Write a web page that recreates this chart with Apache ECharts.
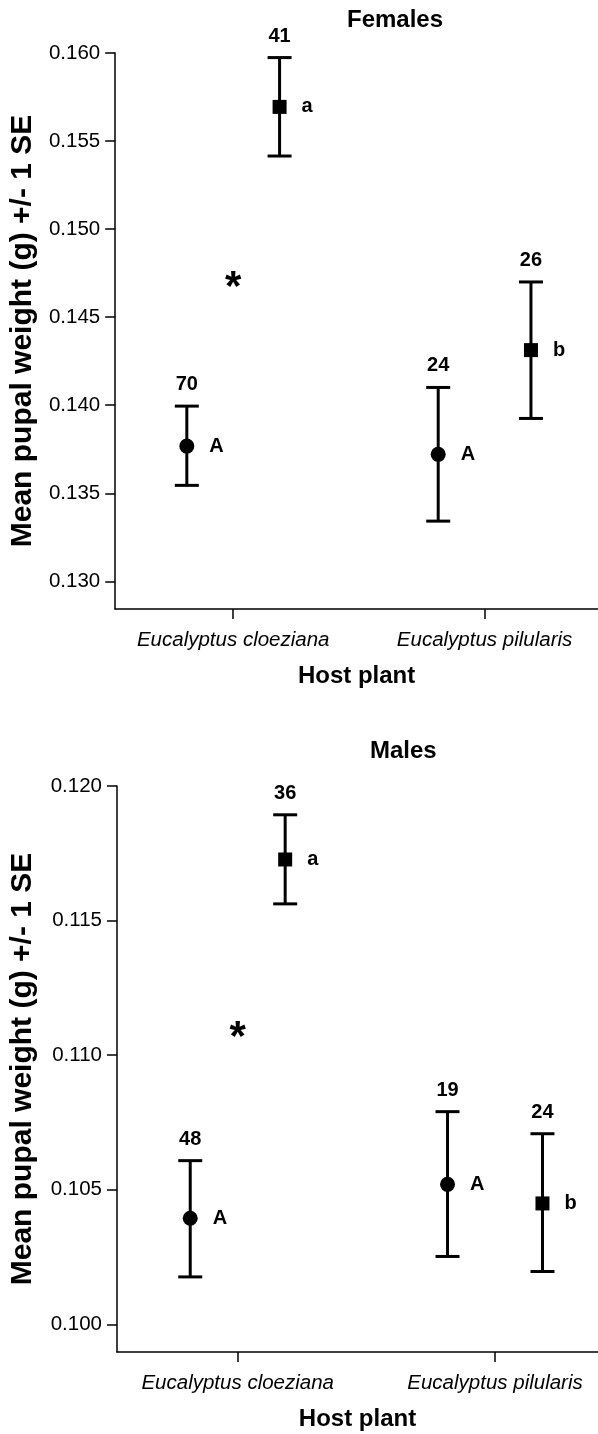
<!DOCTYPE html>
<html>
<head>
<meta charset="utf-8">
<script src="https://cdn.jsdelivr.net/npm/echarts@6/dist/echarts.min.js"></script>
<style>
html,body{margin:0;padding:0;background:#fff;}
#main{width:598px;height:1434px;}
</style>
</head>
<body>
<div id="main"></div>
<script>
// ---------- data ----------
const categories = ['Eucalyptus cloeziana', 'Eucalyptus pilularis'];
const yTicksFemales = [0.130, 0.135, 0.140, 0.145, 0.150, 0.155, 0.160];
const yTicksMales = [0.100, 0.105, 0.110, 0.115, 0.120];
const panelTitles = ['Females', 'Males'];

// Females: circle group
const femCircleMean = [0.13768, 0.13721];
const femCircleLow  = [0.13545, 0.13342];
const femCircleHigh = [0.13995, 0.14101];
const femCircleN    = ['70', '24'];
const femCircleLetter = ['A', 'A'];
// Females: square group
const femSquareMean = [0.15694, 0.14313];
const femSquareLow  = [0.15415, 0.13925];
const femSquareHigh = [0.15974, 0.14700];
const femSquareN    = ['41', '26'];
const femSquareLetter = ['a', 'b'];
const femStar = [1, 0.14745];

// Males: circle group
const maleCircleMean = [0.10394, 0.10520];
const maleCircleLow  = [0.10176, 0.10252];
const maleCircleHigh = [0.10608, 0.10790];
const maleCircleN    = ['48', '19'];
const maleCircleLetter = ['A', 'A'];
// Males: square group
const maleSquareMean = [0.11727, 0.10449];
const maleSquareLow  = [0.11562, 0.10196];
const maleSquareHigh = [0.11893, 0.10708];
const maleSquareN    = ['36', '24'];
const maleSquareLetter = ['a', 'b'];
const maleStar = [1, 0.11115];

// ---------- chart ----------
const FONT = 'Liberation Sans, Arial, Helvetica, sans-serif';
const OFFSET = 0.1845;

function errorBarSeries(g, means, lows, highs, shift) {
  return {
    type: 'custom', xAxisIndex: g, yAxisIndex: g, z: 2,
    data: means.map((m, i) => [i + 1 + shift, lows[i], highs[i]]),
    encode: { x: 0, y: [1, 2] },
    renderItem: function (params, api) {
      const x = api.value(0);
      const top = api.coord([x, api.value(2)]);
      const bot = api.coord([x, api.value(1)]);
      const hw = 12;
      const st = { stroke: '#000', lineWidth: 3 };
      return {
        type: 'group',
        children: [
          { type: 'line', shape: { x1: top[0], y1: top[1], x2: bot[0], y2: bot[1] }, style: st },
          { type: 'line', shape: { x1: top[0] - hw, y1: top[1], x2: top[0] + hw, y2: top[1] }, style: st },
          { type: 'line', shape: { x1: bot[0] - hw, y1: bot[1], x2: bot[0] + hw, y2: bot[1] }, style: st }
        ]
      };
    }
  };
}

function markerSeries(g, means, letters, shift, symbol, size) {
  return {
    type: 'scatter', xAxisIndex: g, yAxisIndex: g, z: 3,
    symbol: symbol, symbolSize: size,
    itemStyle: { color: '#000', opacity: 1 },
    data: means.map((m, i) => ({ value: [i + 1 + shift, m], letter: letters[i] })),
    label: {
      show: true, position: 'right', distance: 15,
      formatter: p => p.data.letter,
      color: '#000', fontFamily: FONT, fontWeight: 'bold', fontSize: 20
    },
    emphasis: { disabled: true }, silent: true
  };
}

function nSeries(g, highs, ns, shift) {
  return {
    type: 'scatter', xAxisIndex: g, yAxisIndex: g, z: 3,
    symbol: 'circle', symbolSize: 1,
    itemStyle: { color: 'rgba(0,0,0,0)', opacity: 1 },
    data: highs.map((h, i) => ({ value: [i + 1 + shift, h], n: ns[i] })),
    label: {
      show: true, position: 'top', distance: 11,
      formatter: p => p.data.n,
      color: '#000', fontFamily: FONT, fontWeight: 'bold', fontSize: 20
    },
    emphasis: { disabled: true }, silent: true
  };
}

function starSeries(g, star) {
  return {
    type: 'scatter', xAxisIndex: g, yAxisIndex: g, z: 3,
    symbol: 'circle', symbolSize: 1,
    itemStyle: { color: 'rgba(0,0,0,0)', opacity: 1 },
    data: [star],
    label: {
      show: true, position: 'inside', formatter: '*', offset: [0, 14],
      color: '#000', fontFamily: FONT, fontWeight: 'bold', fontSize: 42
    },
    emphasis: { disabled: true }, silent: true
  };
}

function xAxisOf(g, min, max) {
  return {
    type: 'value', gridIndex: g, min: min, max: max,
    name: 'Host plant', nameLocation: 'middle', nameGap: 55,
    nameTextStyle: { color: '#000', fontFamily: FONT, fontWeight: 'bold', fontSize: 24 },
    axisLine: { show: true, lineStyle: { color: '#000', width: 1.5 } },
    axisTick: { show: true, length: 10, customValues: [1, 2], lineStyle: { color: '#000', width: 1.5 } },
    axisLabel: {
      customValues: [1, 2], margin: 21,
      formatter: v => categories[Math.round(v) - 1] || '',
      color: '#000', fontFamily: FONT, fontStyle: 'italic', fontSize: 20.5
    },
    splitLine: { show: false }
  };
}

function yAxisOf(g, min, max, ticks, gap) {
  return {
    type: 'value', gridIndex: g, min: min, max: max,
    name: 'Mean pupal weight (g) +/- 1 SE', nameLocation: 'middle', nameGap: gap,
    nameTextStyle: { color: '#000', fontFamily: FONT, fontWeight: 'bold', fontSize: 30 },
    axisLine: { show: true, lineStyle: { color: '#000', width: 1.5 } },
    axisTick: { show: true, length: 10, customValues: ticks, lineStyle: { color: '#000', width: 1.5 } },
    axisLabel: {
      customValues: ticks, margin: 15,
      formatter: v => v.toFixed(3),
      color: '#000', fontFamily: FONT, fontSize: 20.5
    },
    splitLine: { show: false }
  };
}

const option = {
  backgroundColor: '#fff',
  animation: false,
  title: [
    { text: panelTitles[0], left: 347, top: 8, padding: 0,
      textStyle: { color: '#000', fontFamily: FONT, fontWeight: 'bold', fontSize: 24 } },
    { text: panelTitles[1], left: 370, top: 739, padding: 0,
      textStyle: { color: '#000', fontFamily: FONT, fontWeight: 'bold', fontSize: 24 } }
  ],
  grid: [
    { left: 114, top: 53, width: 484, height: 556, containLabel: false },
    { left: 117, top: 786, width: 481, height: 566, containLabel: false }
  ],
  xAxis: [ xAxisOf(0, 0.5306, 2.4512), xAxisOf(1, 0.5309, 2.4003) ],
  yAxis: [ yAxisOf(0, 0.12843, 0.160, yTicksFemales, 76), yAxisOf(1, 0.09897, 0.120, yTicksMales, 79) ],
  series: [
    errorBarSeries(0, femCircleMean, femCircleLow, femCircleHigh, -OFFSET),
    errorBarSeries(0, femSquareMean, femSquareLow, femSquareHigh, OFFSET),
    markerSeries(0, femCircleMean, femCircleLetter, -OFFSET, 'circle', 15),
    markerSeries(0, femSquareMean, femSquareLetter, OFFSET, 'rect', 14),
    nSeries(0, femCircleHigh, femCircleN, -OFFSET),
    nSeries(0, femSquareHigh, femSquareN, OFFSET),
    starSeries(0, femStar),
    errorBarSeries(1, maleCircleMean, maleCircleLow, maleCircleHigh, -OFFSET),
    errorBarSeries(1, maleSquareMean, maleSquareLow, maleSquareHigh, OFFSET),
    markerSeries(1, maleCircleMean, maleCircleLetter, -OFFSET, 'circle', 15),
    markerSeries(1, maleSquareMean, maleSquareLetter, OFFSET, 'rect', 14),
    nSeries(1, maleCircleHigh, maleCircleN, -OFFSET),
    nSeries(1, maleSquareHigh, maleSquareN, OFFSET),
    starSeries(1, maleStar)
  ]
};

const chart = echarts.init(document.getElementById('main'), null, { renderer: 'canvas' });
chart.setOption(option);
</script>
</body>
</html>
